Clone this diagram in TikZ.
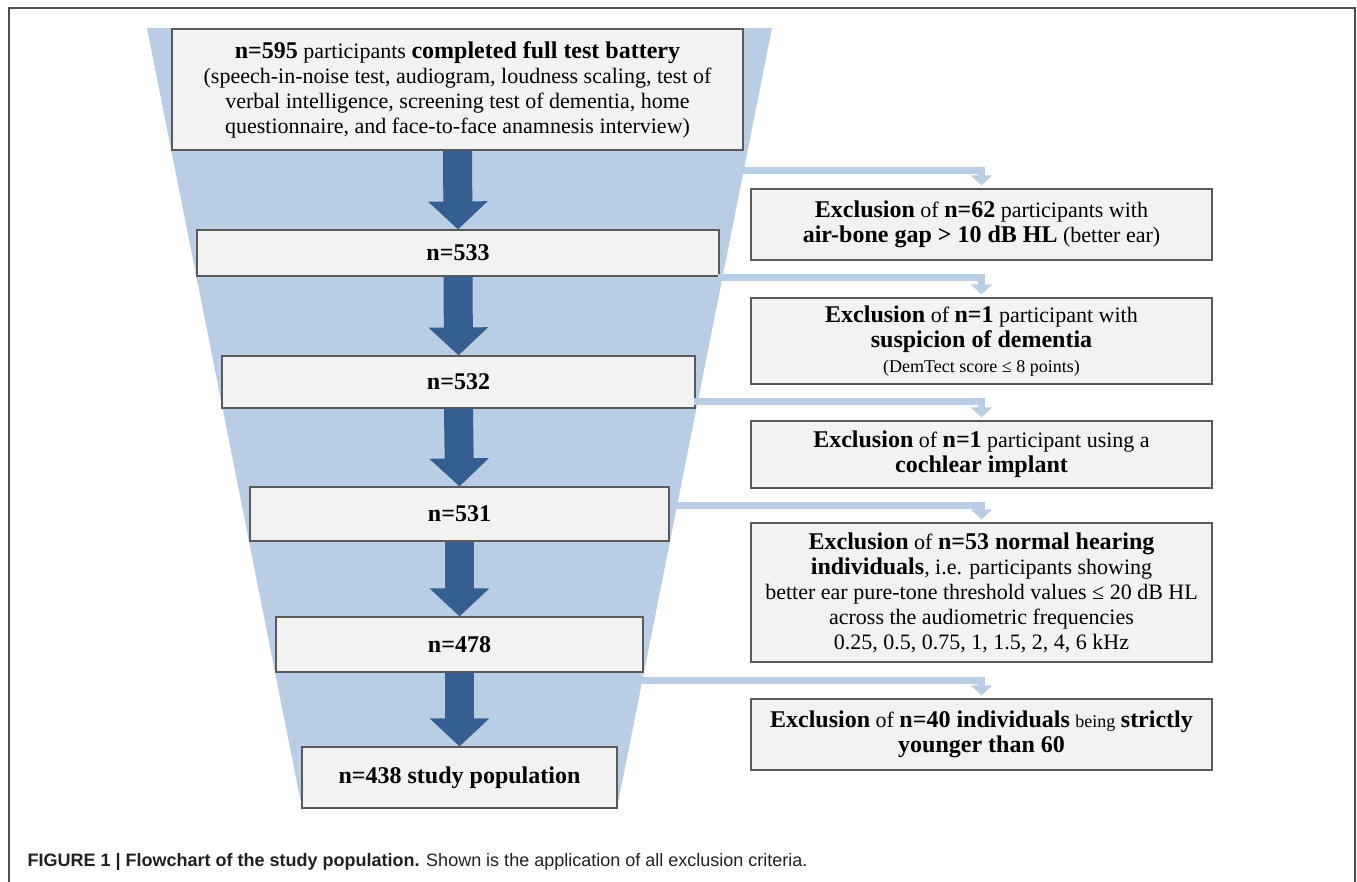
\documentclass[tikz,border=0pt]{standalone}
\usepackage{fontspec}
\setmainfont{Liberation Serif}
\newfontfamily\capfont{Liberation Sans}
\usepackage{xcolor}
\definecolor{funnelblue}{HTML}{B9CDE5}
\definecolor{arrowblue}{HTML}{365F91}
\definecolor{boxfill}{HTML}{F2F2F2}
\definecolor{boxline}{HTML}{5A5A5A}
\definecolor{frameline}{HTML}{4D4D4D}
\definecolor{captionink}{HTML}{231F20}
\usetikzlibrary{arrows.meta}
\newcommand\hi[1]{{\fontsize{24}{25}\selectfont\textbf{#1}}}

\begin{document}
\begin{tikzpicture}[
  x=1pt,
  y=-1pt,
  every node/.style={font=\fontsize{22}{25}\selectfont},
  countbox/.style={draw=boxline, line width=1.2pt, fill=boxfill, inner sep=0pt, align=center},
  exclbox/.style={countbox, minimum width=461pt},
  flowarrow/.style={arrowblue, line width=29pt, -{Triangle[width=58pt,length=28pt]}},
  sidearrow/.style={funnelblue, line width=7pt, -{Triangle[width=21pt,length=10pt]}, shorten >=3pt}
]
  \useasboundingbox (0,0) rectangle (1357,881);
  \draw[frameline, line width=1.5pt] (9,900) -- (9,8) -- (1355,8) -- (1355,900);

  % funnel behind the counts
  \fill[funnelblue] (147,28) -- (772,28) -- (617,808) -- (302,808) -- cycle;

  % points on the right edge of the funnel
  \coordinate (s1) at (740,170);
  \coordinate (s2) at (718,277);
  \coordinate (s3) at (694,401);
  \coordinate (s4) at (673,505);
  \coordinate (s5) at (638,680);

  \node[countbox, minimum width=571pt, minimum height=121pt] (b1) at (457.5,89.5)
    {\hi{n=595} participants \hi{completed full test battery}\\
     (speech-in-noise test, audiogram, loudness scaling, test of\\
     verbal intelligence, screening test of dementia, home\\
     questionnaire, and face-to-face anamnesis interview)};
  \node[countbox, minimum width=522pt, minimum height=46pt] (b2) at (458,253) {\hi{n=533}};
  \node[countbox, minimum width=473pt, minimum height=52pt] (b3) at (458.5,382) {\hi{n=532}};
  \node[countbox, minimum width=419pt, minimum height=54pt] (b4) at (459.5,514) {\hi{n=531}};
  \node[countbox, minimum width=367pt, minimum height=55pt] (b5) at (459.5,644.5) {\hi{n=478}};
  \node[countbox, minimum width=315pt, minimum height=61pt] (b6) at (459.5,777.5) {\hi{n=438 study population}};

  \node[exclbox, minimum height=71pt] (x1) at (981.5,224.5)
    {\hi{Exclusion} of \hi{n=62} participants with\\
     \hi{air-bone gap > 10 dB HL} (better ear)};
  \node[exclbox, minimum height=86pt] (x2) at (981.5,341)
    {\hi{Exclusion} of \hi{n=1} participant with\\
     \hi{suspicion of dementia}\\
     {\fontsize{18}{20}\selectfont (DemTect score ≤ 8 points)}};
  \node[exclbox, minimum height=67pt] (x3) at (981.5,454.5)
    {\hi{Exclusion} of \hi{n=1} participant using a\\
     \hi{cochlear implant}};
  \node[exclbox, minimum height=139pt] (x4) at (981.5,592.5)
    {\hi{Exclusion} of \hi{n=53 normal hearing}\\
     \hi{individuals}, i.e. participants showing\\
     better ear pure-tone threshold values ≤ 20 dB HL\\
     across the audiometric frequencies\\
     0.25, 0.5, 0.75, 1, 1.5, 2, 4, 6 kHz};
  \node[exclbox, minimum height=71pt] (x5) at (981.5,734.5)
    {\hi{Exclusion} of \hi{n=40 individuals} {\fontsize{18}{20}\selectfont being} \hi{strictly}\\
     \hi{younger than 60}};

  \draw[flowarrow] (b1.south) -- (b2.north);
  \draw[flowarrow] (b2.south) -- (b3.north);
  \draw[flowarrow] (b3.south) -- (b4.north);
  \draw[flowarrow] (b4.south) -- (b5.north);
  \draw[flowarrow] (b5.south) -- (b6.north);

  \draw[sidearrow] (s1) -| (x1.north);
  \draw[sidearrow] (s2) -| (x2.north);
  \draw[sidearrow] (s3) -| (x3.north);
  \draw[sidearrow] (s4) -| (x4.north);
  \draw[sidearrow] (s5) -| (x5.north);

  \node[anchor=base west, text=captionink, font=\capfont\fontsize{18}{20}\selectfont] (cap) at (24,866)
    {\textbf{FIGURE 1 | Flowchart of the study population.} Shown is the application of all exclusion criteria.};
\end{tikzpicture}
\end{document}
